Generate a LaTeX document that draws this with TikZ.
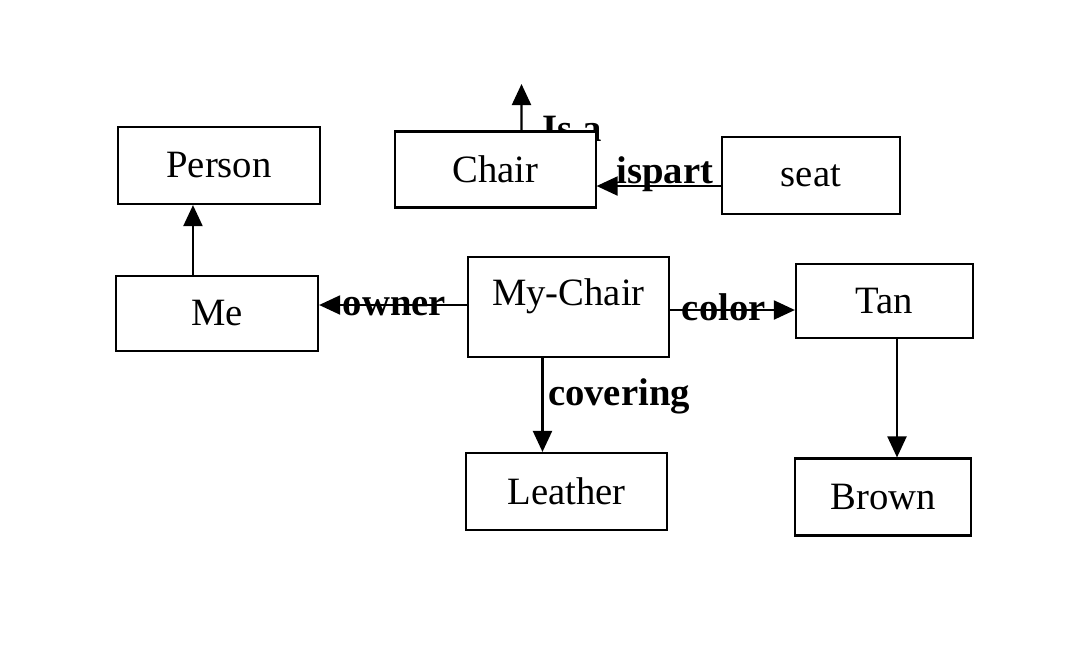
\documentclass[tikz,border=0pt]{standalone}
\usepackage{fontspec}
\setmainfont{Liberation Serif}
\usetikzlibrary{
    arrows.meta,
    positioning,
    calc
}

\begin{document}
\begin{tikzpicture}[x=0.01cm, y=-0.01cm,
    box/.style={draw, rectangle, fill=white, line width=0.6pt, inner sep=0pt,
        font=\fontsize{11}{13}\selectfont},
    rel/.style={inner sep=0pt, font=\fontsize{11}{13}\selectfont\bfseries},
    arr/.style={-{Triangle[length=0.21cm, width=0.19cm]}, line width=0.6pt}]
    \useasboundingbox (0,0) rectangle (1084,654);
                % label first, so the Chair box hides its lower part
                \node[rel, anchor=base west] (isa) at (542,141) {Is a};

                \node[box, minimum width=2.02cm, minimum height=0.77cm] (person) at (219,165.5) {Person};
                \node[box, minimum width=2.00cm, minimum height=0.76cm] (chair) at (495.5,169.5) {Chair};
                \node[box, minimum width=1.78cm, minimum height=0.77cm] (seat) at (811,175.5) {seat};
                \node[box, minimum width=2.02cm, minimum height=0.75cm] (me) at (217,313.5) {Me};
                \node[box, minimum width=2.01cm, minimum height=1.00cm,
                      text height=0.27cm, text depth=0.31cm] (mychair) at (568.5,307) {My-Chair};
                \node[box, minimum width=1.77cm, minimum height=0.74cm] (tan) at (884.5,301) {Tan};
                \node[box, minimum width=2.01cm, minimum height=0.77cm] (leather) at (566.5,491.5) {Leather};
                \node[box, minimum width=1.76cm, minimum height=0.77cm] (brown) at (883,497) {Brown};
                \coordinate (isatip) at (521.5,84);

                \draw[arr] ([xshift=0.26cm]chair.north) -- (isatip);
                \draw[arr] ([xshift=-0.24cm]me.north) coordinate (m1) -- (m1 |- person.south);
                \draw[arr] ([yshift=-0.105cm]seat.west) coordinate (s1)
                    -- node[rel, anchor=base, pos=0.45, yshift=0.03cm] {ispart} (s1 -| chair.east);
                \draw[arr] ([yshift=0.02cm]mychair.west) coordinate (o1)
                    -- node[rel, anchor=base, pos=0.49, yshift=-0.1cm] {owner} (o1 -| me.east);
                \draw[arr] ([yshift=-0.03cm]mychair.east) coordinate (c1)
                    -- node[rel, anchor=base, pos=0.43, yshift=-0.1cm] {color} (c1 -| tan.west);
                \draw[arr] ([xshift=-0.26cm]mychair.south) coordinate (v1)
                    -- node[rel, anchor=base west, pos=0.5, xshift=0.045cm] {covering} (v1 |- leather.north);
                \draw[arr] ([xshift=0.125cm]tan.south) coordinate (t1) -- (t1 |- brown.north);
            \end{tikzpicture}
\end{document}
